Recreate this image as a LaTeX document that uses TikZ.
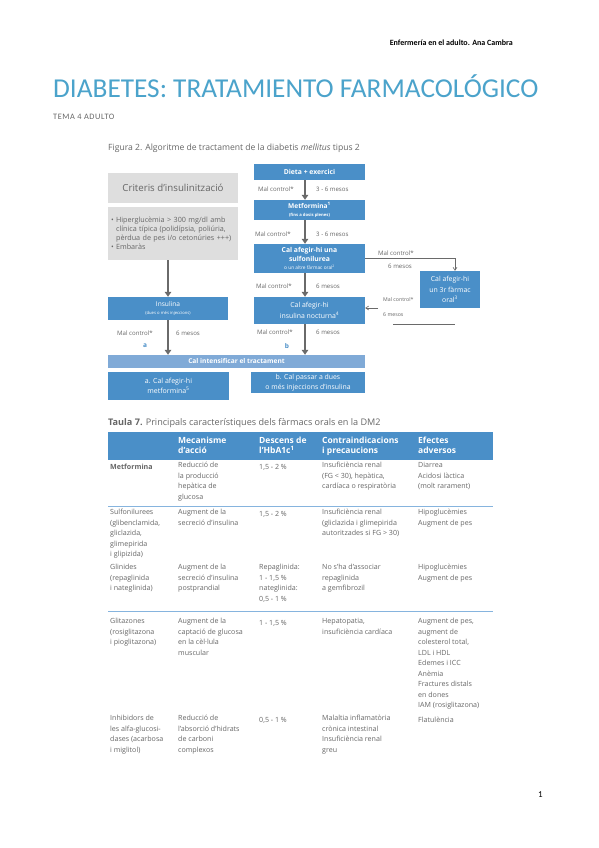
\documentclass[tikz,border=0pt]{standalone}
\usepackage{fontspec}
\setmainfont{Open Sans}
\newfontfamily\carl{Carlito}
\newfontfamily\carlsp[LetterSpace=7]{Carlito}
\usetikzlibrary{arrows.meta}
\definecolor{boxblue}{HTML}{4A8FC8}
\definecolor{lightbar}{HTML}{80AAD7}
\definecolor{graybox}{HTML}{DEDEDE}
\definecolor{titleblue}{HTML}{4BA3CB}
\definecolor{txtgray}{HTML}{666666}
\definecolor{arrgray}{HTML}{6A6A6A}
\definecolor{sepblue}{HTML}{86B4DE}
\newcommand\myfs[2]{\fontsize{#1}{#2}\selectfont}
\begin{document}
\begin{tikzpicture}[x=1pt,y=-1pt,
  every node/.style={inner sep=0pt},
  bbox/.style={fill=boxblue, text=white, align=center, font=\myfs{6.6}{8.5}},
  gbox/.style={fill=graybox, text=txtgray},
  lab/.style={font=\myfs{6.1}{7}, text=txtgray, anchor=west},
  fat/.style={draw=arrgray, line width=2.6pt, -{Triangle[length=5pt,width=6.5pt]}},
  slim/.style={draw=arrgray, line width=0.6pt},
  cell/.style={anchor=north west, yshift=7.35pt, align=left, text=txtgray, font=\myfs{7.1}{10.5}, execute at begin node=\strut},
  hcell/.style={anchor=north west, yshift=7pt, align=left, text=white, font=\myfs{8.5}{10}\bfseries, execute at begin node=\strut}
]
\fill[white] (0,0) rectangle (599,848);
\useasboundingbox (0,0) rectangle (599,848);

% header
\node[anchor=base east, font=\carl\bfseries\myfs{8}{9}, text=black] (hdr) at (513,45.5) {Enfermería en el adulto. Ana Cambra};
\node[anchor=base west, font=\carl\myfs{27.3}{30}, text=titleblue] (title) at (53,98) {DIABETES: TRATAMIENTO FARMACOLÓGICO};
\node[anchor=base west, font=\carlsp\myfs{8.3}{10}, text=txtgray] (tema) at (53,120) {TEMA 4 ADULTO};
\node[anchor=base west, font=\myfs{8.6}{10}, text=txtgray] (fig) at (108,150) {Figura 2. Algoritme de tractament de la diabetis \textit{mellitus} tipus 2};

% left column
\node[gbox, minimum width=130, minimum height=30, font=\myfs{9.7}{11}] (crit) at (173,188) {Criteris d’insulinització};
\node[gbox, minimum width=130, minimum height=53, text width=124, align=left, font=\myfs{7.2}{9}] (critb) at (173,233.5)
 {• Hiperglucèmia > 300 mg/dl amb\\\hphantom{• }clínica típica (polidípsia, poliúria,\\\hphantom{• }pèrdua de pes i/o cetonúries +++)\\• Embaràs};

% blue boxes
\node[bbox, minimum width=111, minimum height=16, font=\myfs{6.8}{8}\bfseries] (dieta) at (309.5,172) {Dieta + exercici};
\node[bbox, minimum width=111, minimum height=20, font=\myfs{6.6}{7.5}\bfseries] (metf) at (309.5,210) {Metformina\textsuperscript{1}\\{\myfs{4.2}{5}(fins a dosis plenes)}};
\node[bbox, minimum width=111, minimum height=29, font=\myfs{6.8}{8.8}\bfseries] (sulf) at (309.5,258.5) {Cal afegir-hi una\\sulfonilurea\\{\mdseries\myfs{4.8}{5}o un altre fàrmac oral\textsuperscript{2}}};
\node[bbox, minimum width=111, minimum height=27, font=\myfs{6.9}{10.5}] (noct) at (309.5,310.5) {Cal afegir-hi\\insulina nocturna\textsuperscript{4}};
\node[bbox, minimum width=60, minimum height=37, font=\myfs{6.9}{10.3}] (tres) at (450,289.5) {Cal afegir-hi\\un 3r fàrmac\\oral\textsuperscript{3}};
\node[bbox, minimum width=120, minimum height=23, font=\myfs{6.6}{8.8}] (insl) at (168,308.5) {Insulina\\{\myfs{4.2}{5}(dues o més injeccions)}};
\node[fill=lightbar, text=white, minimum width=257, minimum height=13, font=\myfs{6.6}{8}\bfseries] (bar) at (236.5,361.5) {Cal intensificar el tractament};
\node[bbox, minimum width=121, minimum height=28, font=\myfs{7}{10}] (boxa) at (168.5,386) {a. Cal afegir-hi\\metformina\textsuperscript{5}};
\node[bbox, minimum width=114, minimum height=21, font=\myfs{6.9}{9.5}] (boxb) at (308,382.5) {b. Cal passar a dues\\o més injeccions d’insulina};

% thick arrows
\coordinate (ax) at (305,0);
\draw[fat] (dieta.south -| ax) -- (metf.north -| ax);
\draw[fat] (metf.south -| ax) -- (sulf.north -| ax);
\draw[fat] (sulf.south -| ax) -- (noct.north -| ax);
\draw[fat] (noct.south -| ax) -- (bar.north -| ax);
\draw[fat] (critb.south -| insl) -- (insl.north);
\draw[fat] (insl.south) -- (bar.north -| insl);

% labels
\node[lab] (l1a) at (258,189) {Mal control*};
\node[lab] (l1b) at (316,189) {3 - 6 mesos};
\node[lab] (l2a) at (255,234) {Mal control*};
\node[lab] (l2b) at (316,234) {3 - 6 mesos};
\node[lab] (l3a) at (256,286) {Mal control*};
\node[lab] (l3b) at (316,286) {6 mesos};
\node[lab] (l4a) at (257,332) {Mal control*};
\node[lab] (l4b) at (316,332) {6 mesos};
\node[lab] (l5a) at (117,333) {Mal control*};
\node[lab] (l5b) at (176,333) {6 mesos};
\node[text=boxblue, font=\myfs{6.5}{7}\bfseries] (la) at (145,346) {a};
\node[text=boxblue, font=\myfs{6.5}{7}\bfseries] (lb) at (287,346) {b};

% side connectors
\coordinate (tn) at ([xshift=5]tres.north);
\draw[slim, -{Straight Barb[length=3pt,width=4pt]}] (sulf.east) -| (tn);
\node[lab] (l6a) at (378,253) {Mal control*};
\node[lab] (l6b) at (388,266.5) {6 mesos};
\coordinate (fb) at (378,308);
\draw[slim, -{Straight Barb[length=3pt,width=4pt]}] (fb) -- (noct.east |- fb);
\node[lab, font=\myfs{5.2}{6}] (l7a) at (383,300) {Mal control*};
\node[lab, font=\myfs{5.2}{6}] (l7b) at (383,315) {6 mesos};
\coordinate (ln1) at (393,324);
\coordinate (ln2) at (455,324);
\draw[slim] (ln1) -- (ln2);

% table
\node[anchor=base west, font=\myfs{9.1}{10}, text=txtgray] (tcap) at (108,425) {\textbf{Taula 7.} Principals característiques dels fàrmacs orals en la DM2};
\node[fill=boxblue, minimum width=385, minimum height=28, anchor=north west] (thead) at (108,432) {};
\node[hcell] (h2) at (178,444) {Mecanisme\\d’acció};
\node[hcell] (h3) at (259,444) {Descens de\\l’HbA1c\textsuperscript{1}};
\node[hcell] (h4) at (322,444) {Contraindicacions\\i precaucions};
\node[hcell] (h5) at (418,444) {Efectes\\adversos};

% row 1
\node[cell, font=\myfs{7.1}{10.5}\bfseries] (r1a) at (110,469.5) {Metformina};
\node[cell] (r1b) at (178,469.5) {Reducció de\\la producció\\hepàtica de\\glucosa};
\node[cell] (r1c) at (259,469.5) {1,5 - 2 \%};
\node[cell] (r1d) at (322,469.5) {Insuficiència renal\\(FG < 30), hepàtica,\\cardíaca o respiratòria};
\node[cell] (r1e) at (418,469.5) {Diarrea\\Acidosi làctica\\(molt rarament)};
\draw[sepblue, line width=0.9pt] (108,506) -- (493,506);
% row 2
\node[cell] (r2a) at (110,516.5) {Sulfonilurees\\(glibenclamida,\\gliclazida,\\glimepirida\\i glipizida)};
\node[cell] (r2b) at (178,516.5) {Augment de la\\secreció d’insulina};
\node[cell] (r2c) at (259,516.5) {1,5 - 2 \%};
\node[cell] (r2d) at (322,516.5) {Insuficiència renal\\(gliclazida i glimepirida\\autoritzades si FG > 30)};
\node[cell] (r2e) at (418,516.5) {Hipoglucèmies\\Augment de pes};
% row 3
\node[cell] (r3a) at (110,571.5) {Glinides\\(repaglinida\\i nateglinida)};
\node[cell] (r3b) at (178,571.5) {Augment de la\\secreció d’insulina\\postprandial};
\node[cell] (r3c) at (259,571.5) {Repaglinida:\\1 - 1,5 \%\\nateglinida:\\0,5 - 1 \%};
\node[cell] (r3d) at (322,571.5) {No s’ha d’associar\\repaglinida\\a gemfibrozil};
\node[cell] (r3e) at (418,571.5) {Hipoglucèmies\\Augment de pes};
\draw[sepblue, line width=0.9pt] (108,611) -- (493,611);
% row 4
\node[cell] (r4a) at (110,625.5) {Glitazones\\(rosiglitazona\\i pioglitazona)};
\node[cell] (r4b) at (178,625.5) {Augment de la\\captació de glucosa\\en la cèl·lula\\muscular};
\node[cell] (r4c) at (259,625.5) {1 - 1,5 \%};
\node[cell] (r4d) at (322,625.5) {Hepatopatia,\\insuficiència cardíaca};
\node[cell] (r4e) at (418,625.5) {Augment de pes,\\augment de\\colesterol total,\\LDL i HDL\\Edemes i ICC\\Anèmia\\Fractures distals\\en dones\\IAM (rosiglitazona)};
% row 5
\node[cell] (r5a) at (110,722.5) {Inhibidors de\\les alfa-glucosi-\\dases (acarbosa\\i miglitol)};
\node[cell] (r5b) at (178,722.5) {Reducció de\\l’absorció d’hidrats\\de carboni\\complexos};
\node[cell] (r5c) at (259,722.5) {0,5 - 1 \%};
\node[cell] (r5d) at (322,722.5) {Malaltia inflamatòria\\crònica intestinal\\Insuficiència renal\\greu};
\node[cell] (r5e) at (418,722.5) {Flatulència};

\node[anchor=base west, font=\carl\myfs{9}{10}, text=black] (pg) at (538,797) {1};
\end{tikzpicture}
\end{document}
